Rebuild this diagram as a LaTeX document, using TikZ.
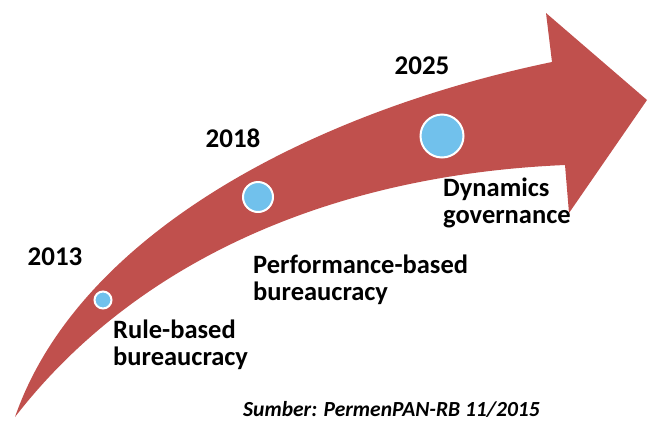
\documentclass[tikz,border=0pt]{standalone}
\usepackage{fontspec}
\setmainfont{Carlito}
\usepackage{xcolor}
\usepackage{tikz}
\definecolor{arrowred}{RGB}{192,80,77}
\definecolor{dotblue}{RGB}{113,193,236}

\begin{document}
\begin{tikzpicture}[x=1pt, y=-1pt,
% common options for the years:
year/.style = {font=\bfseries\fontsize{27}{30}\selectfont, anchor=center, inner sep=0},
% common options for the stages (anchored on the baseline of the last line):
stage/.style = {font=\bfseries\fontsize{26.5}{26.5}\selectfont, align=left,
            anchor=base west, inner sep=0},
% common options for the circles:
ball/.style = {circle, draw=white, line width=2pt, fill=dotblue, inner sep=0}]
\useasboundingbox (0,0) rectangle (648,421);
% the curved arrow: upper edge, head, lower edge back to the tail
\fill[arrowred] (15,417) .. controls (80,230) and (320,110) .. (552,62)
  -- (546,13) -- (647,100) -- (569,213) -- (565,165)
  .. controls (330,175) and (135,262) .. (15,417) -- cycle;
\node[ball, minimum size=17pt] (C0) at (103,300) {};
\node[ball, minimum size=30pt] (C1) at (258,197) {};
\node[ball, minimum size=43pt] (C2) at (442,136) {};
\node[year] (Y0) at (55,257) {2013};
\node[year] (Y1) at (233,138) {2018};
\node[year] (Y2) at (422,66) {2025};
\node[stage] (S0) at (113,365) {Rule-based\\bureaucracy};
\node[stage] (S1) at (253,300) {Performance-based\\bureaucracy};
\node[stage] (S2) at (443,223) {Dynamics\\governance};
\node[font=\bfseries\itshape\fontsize{21.5}{24}\selectfont, anchor=base west, inner sep=0]
  (src) at (243,416) {Sumber: PermenPAN-RB 11/2015};
\end{tikzpicture}
\end{document}
